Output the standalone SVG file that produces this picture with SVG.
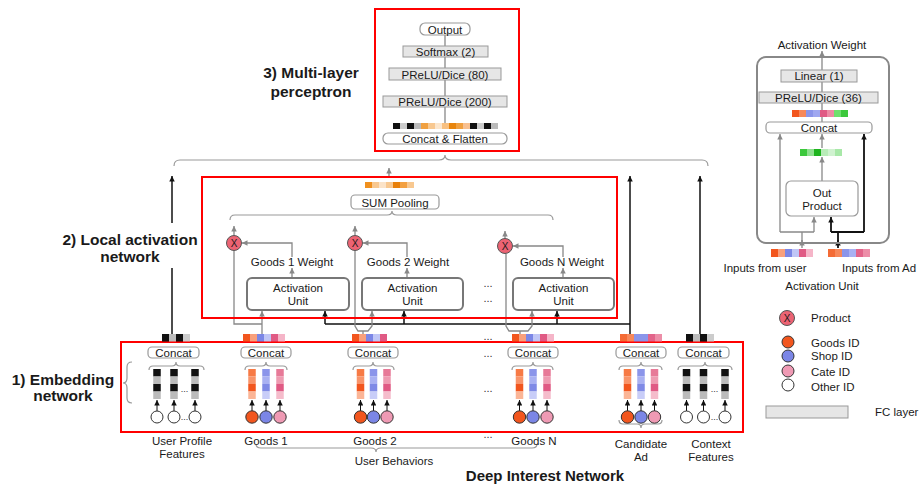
<svg xmlns="http://www.w3.org/2000/svg" width="923" height="485" viewBox="0 0 923 485">
<defs>
<marker id="ag" viewBox="0 0 10 10" refX="10" refY="5" markerWidth="5.5" markerHeight="5.5" markerUnits="userSpaceOnUse" orient="auto"><path d="M0,0 L10,5 L0,10 z" fill="#888"/></marker>
<marker id="ak" viewBox="0 0 10 10" refX="10" refY="5" markerWidth="5.5" markerHeight="5.5" markerUnits="userSpaceOnUse" orient="auto"><path d="M0,0 L10,5 L0,10 z" fill="#111"/></marker>
</defs>
<style>
.t{font-family:"Liberation Sans",Arial,sans-serif;font-size:11.5px;fill:#1a1a1a}
.m{text-anchor:middle}
.b{font-weight:bold;font-size:15.5px}
.box{fill:#fff;stroke:#999;stroke-width:1.2}
.fc{fill:#e6e6e6;stroke:#999;stroke-width:1}
.au{fill:#fff;stroke:#777;stroke-width:2}
.red{fill:none;stroke:#f00;stroke-width:2}
.g{stroke:#888;stroke-width:1.3;fill:none}
.k{stroke:#111;stroke-width:1.5;fill:none}
.ga{stroke:#888;stroke-width:1.3;fill:none;marker-end:url(#ag)}
.ka{stroke:#111;stroke-width:1.5;fill:none;marker-end:url(#ak)}
.br{stroke:#999;stroke-width:1.2;fill:none}
.px{fill:#ec6373;stroke:#555;stroke-width:1}
.cg{fill:#f2561e;stroke:#333;stroke-width:1}
.cs{fill:#7b86e6;stroke:#333;stroke-width:1}
.cc{fill:#ef9ab4;stroke:#333;stroke-width:1}
.co{fill:#fff;stroke:#333;stroke-width:1}
.d{font-family:"Liberation Sans",Arial,sans-serif;font-size:11px;fill:#333;text-anchor:middle}
</style>
<rect width="923" height="485" fill="#fff"/>

<!-- Labels -->
<g id="labels">
<text class="t b m" x="311" y="78">3) Multi-layer</text>
<text class="t b m" x="311" y="97">perceptron</text>
<text class="t b m" x="130" y="245">2) Local activation</text>
<text class="t b m" x="130" y="262">network</text>
<text class="t b m" x="63" y="385">1) Embedding</text>
<text class="t b m" x="63" y="401">network</text>
<text class="t b m" x="545" y="481" style="font-size:15px">Deep Interest Network</text>
<path class="br" d="M132,362 Q127,362 127,367 L127,378 Q127,383 123,383 Q127,383 127,388 L127,398 Q127,403 132,403"/>
</g>

<!-- Connectors -->
<g id="connectors">
<path class="br" d="M174,166 Q174,160 180,160 L439,160 Q445,160 445,155 Q445,160 451,160 L702,160 Q708,160 708,166"/>
<path class="br" d="M230,220 Q230,215 235,215 L387,215 Q392,215 392,211 Q392,215 397,215 L548,215 Q553,215 553,220"/>
<path class="k" d="M172,334 L172,268"/>
<path class="ka" d="M172,223 L172,176"/>
<path class="ka" d="M630,334 L630,176"/>
<path class="ka" d="M700,334 L700,176"/>
<path class="ga" d="M389,178 L389,168"/>
<!-- circle up arrows -->
<path class="ga" d="M234,235 L234,226"/>
<path class="ga" d="M355,235 L355,226"/>
<path class="ga" d="M505,238 L505,231"/>
<!-- weights -->
<path class="ga" d="M292,278 L292,268"/>
<path class="ga" d="M292,257 L292,243 L242,243"/>
<path class="ga" d="M407,278 L407,268"/>
<path class="ga" d="M407,257 L407,243 L363,243"/>
<path class="ga" d="M563,278 L563,268"/>
<path class="ga" d="M563,257 L563,246 L513,246"/>
<!-- black candidate line -->
<path class="k" d="M325,324 L630,324"/>
<path class="ka" d="M325,324 L325,311"/>
<path class="ka" d="M404,324 L404,311"/>
<path class="ka" d="M557,324 L557,311"/>
<!-- goods 1 -->
<path class="ga" d="M262,334 L262,311"/>
<path class="g" d="M262,324 L234,324 L234,251"/>
<!-- goods 2 -->
<path class="ga" d="M355,251 L355,326 L358,331 L368,331 L372,326 L372,311"/>
<path class="g" d="M363,331 L363,334"/>
<!-- goods N -->
<path class="ga" d="M506,254 L506,326 L509,331 L528,331 L532,326 L532,311"/>
<path class="g" d="M520,331 L520,334"/>
<!-- MLP -->
<path class="g" d="M445,123 L445,35"/>
<!-- right panel -->
<path class="ga" d="M822,122 L822,51"/>
<path class="ga" d="M822,148 L822,134"/>
<path class="ga" d="M822,181 L822,157"/>
<path class="g" d="M780,232 L814,232"/>
<path class="ga" d="M780,232 L780,134"/>
<path class="ga" d="M814,232 L814,217"/>
<path class="ga" d="M802,248 L802,240"/>
<path class="g" d="M802,241 L802,232"/>
<path class="k" d="M831,232 L864,232" style="stroke-width:1.8"/>
<path class="ka" d="M864,232 L864,134" style="stroke-width:1.8"/>
<path class="ka" d="M831,232 L831,217" style="stroke-width:1.8"/>
<path class="ka" d="M838,248 L838,240" style="stroke-width:1.8"/>
<path class="k" d="M838,241 L838,232" style="stroke-width:1.8"/>
<!-- embedding small arrows -->
<g>
<path class="ka" d="M157,411 L157,400" style="stroke-width:1"/>
<path class="ka" d="M174,411 L174,400" style="stroke-width:1"/>
<path class="ka" d="M195,411 L195,400" style="stroke-width:1"/>
<path class="ka" d="M252,411 L252,400" style="stroke-width:1"/>
<path class="ka" d="M266,411 L266,400" style="stroke-width:1"/>
<path class="ka" d="M280,411 L280,400" style="stroke-width:1"/>
<path class="ka" d="M360.5,411 L360.5,400" style="stroke-width:1"/>
<path class="ka" d="M373.5,411 L373.5,400" style="stroke-width:1"/>
<path class="ka" d="M387,411 L387,400" style="stroke-width:1"/>
<path class="ka" d="M519.5,411 L519.5,400" style="stroke-width:1"/>
<path class="ka" d="M533,411 L533,400" style="stroke-width:1"/>
<path class="ka" d="M547,411 L547,400" style="stroke-width:1"/>
<path class="ka" d="M627.5,411 L627.5,400" style="stroke-width:1"/>
<path class="ka" d="M641,411 L641,400" style="stroke-width:1"/>
<path class="ka" d="M654.5,411 L654.5,400" style="stroke-width:1"/>
<path class="ka" d="M686.5,411 L686.5,400" style="stroke-width:1"/>
<path class="ka" d="M703.5,411 L703.5,400" style="stroke-width:1"/>
<path class="ka" d="M725,411 L725,400" style="stroke-width:1"/>
</g>
<!-- concat braces -->
<path class="br" d="M149,370 Q149,366 153,366 L172,366 Q176,366 176,362 Q176,366 180,366 L200,366 Q204,366 204,370"/>
<path class="br" d="M245,370 Q245,366 249,366 L262,366 Q266,366 266,362 Q266,366 270,366 L283,366 Q287,366 287,370"/>
<path class="br" d="M353,370 Q353,366 357,366 L369,366 Q373,366 373,362 Q373,366 377,366 L390,366 Q394,366 394,370"/>
<path class="br" d="M512,370 Q512,366 516,366 L529,366 Q533,366 533,362 Q533,366 537,366 L549,366 Q553,366 553,370"/>
<path class="br" d="M619,370 Q619,366 623,366 L637,366 Q641,366 641,362 Q641,366 645,366 L658,366 Q662,366 662,370"/>
<path class="br" d="M678,370 Q678,366 682,366 L701,366 Q705,366 705,362 Q705,366 709,366 L728,366 Q732,366 732,370"/>
<path class="br" d="M619,420 Q619,424 623,424 L637,424 Q641,424 641,428 Q641,424 645,424 L658,424 Q662,424 662,420"/>
<path class="br" d="M256,444 Q256,448 261,448 L371,448 Q376,448 376,452 Q376,448 381,448 L532,448 Q537,448 537,444"/>
</g>

<!-- MLP -->
<g id="mlp">
<rect class="red" x="375" y="9" width="144" height="142"/>
<rect class="box" x="420" y="23" width="50" height="12" rx="5"/>
<text class="t m" x="445" y="33.5">Output</text>
<rect class="fc" x="403" y="46" width="85" height="11"/>
<text class="t m" x="445.5" y="55.5">Softmax (2)</text>
<rect class="fc" x="389" y="68" width="112" height="12"/>
<text class="t m" x="445" y="78.5">PReLU/Dice (80)</text>
<rect class="fc" x="383" y="96" width="124" height="11"/>
<text class="t m" x="445" y="105.5">PReLU/Dice (200)</text>
<g>
<rect x="393" y="123" width="7" height="6" fill="#111"/>
<rect x="400" y="123" width="7" height="6" fill="#ccc"/>
<rect x="407" y="123" width="7" height="6" fill="#111"/>
<rect x="414" y="123" width="7" height="6" fill="#bbb"/>
<rect x="421" y="123" width="7" height="6" fill="#f0a040"/>
<rect x="428" y="123" width="7" height="6" fill="#f8c890"/>
<rect x="435" y="123" width="7" height="6" fill="#fce6cc"/>
<rect x="442" y="123" width="7" height="6" fill="#f8c080"/>
<rect x="449" y="123" width="7" height="6" fill="#e8850c"/>
<rect x="456" y="123" width="7" height="6" fill="#f0a040"/>
<rect x="463" y="123" width="7" height="6" fill="#f8c090"/>
<rect x="470" y="123" width="7" height="6" fill="#111"/>
<rect x="477" y="123" width="7" height="6" fill="#ccc"/>
<rect x="484" y="123" width="7" height="6" fill="#111"/>
<rect x="491" y="123" width="7" height="6" fill="#bbb"/>
</g>
<rect class="box" x="383" y="133" width="124" height="11" rx="5"/>
<text class="t m" x="445" y="142.5">Concat &amp; Flatten</text>
</g>

<!-- Local activation network -->
<g id="local-activation">
<rect class="red" x="202" y="177" width="415" height="141"/>
<g>
<rect x="365" y="182" width="7" height="6" fill="#f0901e"/>
<rect x="372" y="182" width="7" height="6" fill="#f8c890"/>
<rect x="379" y="182" width="7" height="6" fill="#fbe3c8"/>
<rect x="386" y="182" width="7" height="6" fill="#f8c890"/>
<rect x="393" y="182" width="7" height="6" fill="#e8800a"/>
<rect x="400" y="182" width="7" height="6" fill="#f3a040"/>
<rect x="407" y="182" width="7" height="6" fill="#f8c890"/>
</g>
<rect class="box" x="351" y="195" width="88" height="14" rx="4"/>
<text class="t m" x="395" y="206.5">SUM Pooling</text>
</g>
<g id="product1"><circle class="px" cx="234" cy="243" r="7.5"/><text class="t m" x="234" y="247" style="font-size:10px">X</text></g>
<g id="product2"><circle class="px" cx="355" cy="243" r="7.5"/><text class="t m" x="355" y="247" style="font-size:10px">X</text></g>
<g id="productN"><circle class="px" cx="505" cy="246" r="7.5"/><text class="t m" x="505" y="250" style="font-size:10px">X</text></g>
<g id="weight-labels">
<text class="t m" x="292" y="266">Goods 1 Weight</text>
<text class="t m" x="408" y="266">Goods 2 Weight</text>
<text class="t m" x="562" y="266">Goods N Weight</text>
</g>
<g id="au1"><rect class="au" x="247" y="278" width="102" height="32" rx="5"/><text class="t m" x="298" y="292">Activation</text><text class="t m" x="298" y="305">Unit</text></g>
<g id="au2"><rect class="au" x="362" y="278" width="101" height="32" rx="5"/><text class="t m" x="412.5" y="292">Activation</text><text class="t m" x="412.5" y="305">Unit</text></g>
<g id="auN"><rect class="au" x="513" y="278" width="101" height="32" rx="5"/><text class="t m" x="563.5" y="292">Activation</text><text class="t m" x="563.5" y="305">Unit</text></g>
<g id="dots">
<text class="d" x="488" y="287">...</text>
<text class="d" x="488" y="302">...</text>
<text class="d" x="488" y="340">...</text>
<text class="d" x="488" y="357">...</text>
<text class="d" x="488" y="392">...</text>
<text class="d" x="488" y="438">...</text>
</g>

<!-- Embedding -->
<g id="embedding">
<rect class="red" x="121" y="342" width="622" height="90"/>
</g>

<g id="user-profile">
<rect x="162" y="334" width="7" height="7.5" fill="#111"/><rect x="169" y="334" width="7" height="7.5" fill="#bbb"/><rect x="176" y="334" width="7" height="7.5" fill="#111"/><rect x="183" y="334" width="7" height="7.5" fill="#ccc"/>
<rect class="box" x="148" y="347" width="51" height="11" rx="4"/><text class="t m" x="173.5" y="356.5">Concat</text>
<g>
<rect x="153.25" y="369" width="7.5" height="7.5" fill="#111"/><rect x="153.25" y="376.5" width="7.5" height="7.5" fill="#bbb"/><rect x="153.25" y="384" width="7.5" height="7.5" fill="#111"/><rect x="153.25" y="391.5" width="7.5" height="7.5" fill="#bbb"/>
<rect x="170.25" y="369" width="7.5" height="7.5" fill="#111"/><rect x="170.25" y="376.5" width="7.5" height="7.5" fill="#bbb"/><rect x="170.25" y="384" width="7.5" height="7.5" fill="#111"/><rect x="170.25" y="391.5" width="7.5" height="7.5" fill="#bbb"/>
<rect x="191.25" y="369" width="7.5" height="7.5" fill="#111"/><rect x="191.25" y="376.5" width="7.5" height="7.5" fill="#bbb"/><rect x="191.25" y="384" width="7.5" height="7.5" fill="#111"/><rect x="191.25" y="391.5" width="7.5" height="7.5" fill="#bbb"/>
</g>
<text class="d" x="184.5" y="392" style="font-size:9px">...</text>
<circle class="co" cx="157" cy="417" r="6"/><circle class="co" cx="174" cy="417" r="6"/><circle class="co" cx="195" cy="417" r="6"/>
<text class="d" x="184.5" y="420" style="font-size:9px">...</text>
<text class="t m" x="182" y="445">User Profile</text>
<text class="t m" x="182" y="458">Features</text>
</g>

<g id="goods1">
<rect x="243" y="334" width="7" height="7.5" fill="#f2561e"/><rect x="250" y="334" width="7" height="7.5" fill="#f9a07c"/><rect x="257" y="334" width="7" height="7.5" fill="#7b86e6"/><rect x="264" y="334" width="7" height="7.5" fill="#c0c6f6"/><rect x="271" y="334" width="7" height="7.5" fill="#e05a84"/><rect x="278" y="334" width="7" height="7.5" fill="#f5b5c8"/>
<rect class="box" x="241" y="347" width="50" height="11" rx="4"/><text class="t m" x="266" y="356.5">Concat</text>
<rect x="248.25" y="369" width="7.5" height="7.5" fill="#f77a45"/><rect x="248.25" y="376.5" width="7.5" height="7.5" fill="#f9946a"/><rect x="248.25" y="384" width="7.5" height="7.5" fill="#f2561e"/><rect x="248.25" y="391.5" width="7.5" height="7.5" fill="#fbb596"/>
<rect x="262.25" y="369" width="7.5" height="7.5" fill="#8b95ea"/><rect x="262.25" y="376.5" width="7.5" height="7.5" fill="#a9b1f2"/><rect x="262.25" y="384" width="7.5" height="7.5" fill="#7f8ae6"/><rect x="262.25" y="391.5" width="7.5" height="7.5" fill="#c8cdf8"/>
<rect x="276.25" y="369" width="7.5" height="7.5" fill="#e77a98"/><rect x="276.25" y="376.5" width="7.5" height="7.5" fill="#ee9bb1"/><rect x="276.25" y="384" width="7.5" height="7.5" fill="#e05a84"/><rect x="276.25" y="391.5" width="7.5" height="7.5" fill="#f5bccb"/>
<circle class="cg" cx="252" cy="417" r="6.2"/><circle class="cs" cx="266" cy="417" r="6.2"/><circle class="cc" cx="280" cy="417" r="6.2"/>
<text class="t m" x="266" y="445">Goods 1</text>
</g>

<g id="goods2">
<rect x="352" y="334" width="7" height="7.5" fill="#f2561e"/><rect x="359" y="334" width="7" height="7.5" fill="#f9a07c"/><rect x="366" y="334" width="7" height="7.5" fill="#7b86e6"/><rect x="373" y="334" width="7" height="7.5" fill="#c0c6f6"/><rect x="380" y="334" width="7" height="7.5" fill="#e05a84"/>
<rect class="box" x="348" y="347" width="50" height="11" rx="4"/><text class="t m" x="373" y="356.5">Concat</text>
<rect x="356.75" y="369" width="7.5" height="7.5" fill="#f77a45"/><rect x="356.75" y="376.5" width="7.5" height="7.5" fill="#f9946a"/><rect x="356.75" y="384" width="7.5" height="7.5" fill="#f2561e"/><rect x="356.75" y="391.5" width="7.5" height="7.5" fill="#fbb596"/>
<rect x="369.75" y="369" width="7.5" height="7.5" fill="#8b95ea"/><rect x="369.75" y="376.5" width="7.5" height="7.5" fill="#a9b1f2"/><rect x="369.75" y="384" width="7.5" height="7.5" fill="#7f8ae6"/><rect x="369.75" y="391.5" width="7.5" height="7.5" fill="#c8cdf8"/>
<rect x="383.25" y="369" width="7.5" height="7.5" fill="#e77a98"/><rect x="383.25" y="376.5" width="7.5" height="7.5" fill="#ee9bb1"/><rect x="383.25" y="384" width="7.5" height="7.5" fill="#e05a84"/><rect x="383.25" y="391.5" width="7.5" height="7.5" fill="#f5bccb"/>
<circle class="cg" cx="360.5" cy="417" r="6.2"/><circle class="cs" cx="373.5" cy="417" r="6.2"/><circle class="cc" cx="387" cy="417" r="6.2"/>
<text class="t m" x="375" y="445">Goods 2</text>
</g>

<g id="goodsN">
<rect x="512" y="334" width="7" height="7.5" fill="#f2561e"/><rect x="519" y="334" width="7" height="7.5" fill="#f9a07c"/><rect x="526" y="334" width="7" height="7.5" fill="#7b86e6"/><rect x="533" y="334" width="7" height="7.5" fill="#c0c6f6"/><rect x="540" y="334" width="7" height="7.5" fill="#e05a84"/><rect x="547" y="334" width="7" height="7.5" fill="#f5b5c8"/>
<rect class="box" x="508" y="347" width="50" height="11" rx="4"/><text class="t m" x="533" y="356.5">Concat</text>
<rect x="515.75" y="369" width="7.5" height="7.5" fill="#f77a45"/><rect x="515.75" y="376.5" width="7.5" height="7.5" fill="#f9946a"/><rect x="515.75" y="384" width="7.5" height="7.5" fill="#f2561e"/><rect x="515.75" y="391.5" width="7.5" height="7.5" fill="#fbb596"/>
<rect x="529.25" y="369" width="7.5" height="7.5" fill="#8b95ea"/><rect x="529.25" y="376.5" width="7.5" height="7.5" fill="#a9b1f2"/><rect x="529.25" y="384" width="7.5" height="7.5" fill="#7f8ae6"/><rect x="529.25" y="391.5" width="7.5" height="7.5" fill="#c8cdf8"/>
<rect x="543.25" y="369" width="7.5" height="7.5" fill="#e77a98"/><rect x="543.25" y="376.5" width="7.5" height="7.5" fill="#ee9bb1"/><rect x="543.25" y="384" width="7.5" height="7.5" fill="#e05a84"/><rect x="543.25" y="391.5" width="7.5" height="7.5" fill="#f5bccb"/>
<circle class="cg" cx="519.5" cy="417" r="6.2"/><circle class="cs" cx="533" cy="417" r="6.2"/><circle class="cc" cx="547" cy="417" r="6.2"/>
<text class="t m" x="534" y="445">Goods N</text>
</g>
<text class="t m" x="394" y="465">User Behaviors</text>

<g id="candidate-ad">
<rect x="620" y="334" width="7" height="7.5" fill="#f46b35"/><rect x="627" y="334" width="7" height="7.5" fill="#f7885a"/><rect x="634" y="334" width="7" height="7.5" fill="#8b95ea"/><rect x="641" y="334" width="7" height="7.5" fill="#8b95ea"/><rect x="648" y="334" width="7" height="7.5" fill="#e2648a"/><rect x="655" y="334" width="7" height="7.5" fill="#ec8ea8"/>
<rect class="box" x="616" y="347" width="50" height="11" rx="4"/><text class="t m" x="641" y="356.5">Concat</text>
<rect x="623.75" y="369" width="7.5" height="7.5" fill="#f77a45"/><rect x="623.75" y="376.5" width="7.5" height="7.5" fill="#f9946a"/><rect x="623.75" y="384" width="7.5" height="7.5" fill="#f2561e"/><rect x="623.75" y="391.5" width="7.5" height="7.5" fill="#fbb596"/>
<rect x="637.25" y="369" width="7.5" height="7.5" fill="#8b95ea"/><rect x="637.25" y="376.5" width="7.5" height="7.5" fill="#a9b1f2"/><rect x="637.25" y="384" width="7.5" height="7.5" fill="#7f8ae6"/><rect x="637.25" y="391.5" width="7.5" height="7.5" fill="#c8cdf8"/>
<rect x="650.75" y="369" width="7.5" height="7.5" fill="#e77a98"/><rect x="650.75" y="376.5" width="7.5" height="7.5" fill="#ee9bb1"/><rect x="650.75" y="384" width="7.5" height="7.5" fill="#e05a84"/><rect x="650.75" y="391.5" width="7.5" height="7.5" fill="#f5bccb"/>
<circle class="cg" cx="627.5" cy="417" r="6.2"/><circle class="cs" cx="641" cy="417" r="6.2"/><circle class="cc" cx="654.5" cy="417" r="6.2"/>
<text class="t m" x="641" y="448">Candidate</text>
<text class="t m" x="641" y="461">Ad</text>
</g>

<g id="context">
<rect x="686" y="334" width="7" height="7.5" fill="#111"/><rect x="693" y="334" width="7" height="7.5" fill="#bbb"/><rect x="700" y="334" width="7" height="7.5" fill="#111"/><rect x="707" y="334" width="7" height="7.5" fill="#ccc"/>
<rect class="box" x="678" y="347" width="51" height="11" rx="4"/><text class="t m" x="703.5" y="356.5">Concat</text>
<rect x="682.75" y="369" width="7.5" height="7.5" fill="#111"/><rect x="682.75" y="376.5" width="7.5" height="7.5" fill="#bbb"/><rect x="682.75" y="384" width="7.5" height="7.5" fill="#111"/><rect x="682.75" y="391.5" width="7.5" height="7.5" fill="#bbb"/>
<rect x="699.75" y="369" width="7.5" height="7.5" fill="#111"/><rect x="699.75" y="376.5" width="7.5" height="7.5" fill="#bbb"/><rect x="699.75" y="384" width="7.5" height="7.5" fill="#111"/><rect x="699.75" y="391.5" width="7.5" height="7.5" fill="#bbb"/>
<rect x="721.25" y="369" width="7.5" height="7.5" fill="#111"/><rect x="721.25" y="376.5" width="7.5" height="7.5" fill="#bbb"/><rect x="721.25" y="384" width="7.5" height="7.5" fill="#111"/><rect x="721.25" y="391.5" width="7.5" height="7.5" fill="#bbb"/>
<text class="d" x="714.5" y="392" style="font-size:9px">...</text>
<circle class="co" cx="686.5" cy="417" r="6"/><circle class="co" cx="703.5" cy="417" r="6"/><circle class="co" cx="725" cy="417" r="6"/>
<text class="d" x="714.5" y="420" style="font-size:9px">...</text>
<text class="t m" x="711" y="448">Context</text>
<text class="t m" x="711" y="461">Features</text>
</g>

<!-- Activation unit detail -->
<g id="activation-unit-detail">
<text class="t m" x="822" y="49">Activation Weight</text>
<rect x="757" y="57" width="132" height="186" rx="9" fill="none" stroke="#888" stroke-width="2"/>
<rect class="fc" x="781" y="70" width="76" height="12"/>
<text class="t m" x="819" y="80">Linear (1)</text>
<rect class="fc" x="759" y="92" width="119" height="11"/>
<text class="t m" x="818.5" y="101.5">PReLU/Dice (36)</text>
<rect x="792" y="110" width="7" height="7" fill="#f2561e"/><rect x="799" y="110" width="7" height="7" fill="#f7885a"/><rect x="806" y="110" width="7" height="7" fill="#8b95ea"/><rect x="813" y="110" width="7" height="7" fill="#a0a8f0"/><rect x="820" y="110" width="7" height="7" fill="#e05a84"/><rect x="827" y="110" width="7" height="7" fill="#ec8aa4"/><rect x="834" y="110" width="7" height="7" fill="#6ee06e"/><rect x="841" y="110" width="7" height="7" fill="#3cc83c"/>
<rect class="box" x="766" y="122" width="106" height="11" rx="4"/>
<text class="t m" x="819" y="131.5">Concat</text>
<rect x="800" y="149" width="7" height="7" fill="#3cc83c"/><rect x="807" y="149" width="7" height="7" fill="#8ee08e"/><rect x="814" y="149" width="7" height="7" fill="#1eb41e"/><rect x="821" y="149" width="7" height="7" fill="#b8ecb8"/><rect x="828" y="149" width="7" height="7" fill="#d0f2d0"/><rect x="835" y="149" width="7" height="7" fill="#a8e8a8"/>
<rect class="box" x="786" y="181" width="72" height="35" rx="5"/>
<text class="t m" x="822" y="197">Out</text>
<text class="t m" x="822" y="210">Product</text>
<rect x="771" y="249" width="7" height="8" fill="#f2561e"/><rect x="778" y="249" width="7" height="8" fill="#f9a07c"/><rect x="785" y="249" width="7" height="8" fill="#7b86e6"/><rect x="792" y="249" width="7" height="8" fill="#c0c6f6"/><rect x="799" y="249" width="7" height="8" fill="#e05a84"/><rect x="806" y="249" width="7" height="8" fill="#f5b5c8"/>
<rect x="828" y="249" width="7" height="8" fill="#f46b35"/><rect x="835" y="249" width="7" height="8" fill="#f7885a"/><rect x="842" y="249" width="7" height="8" fill="#8b95ea"/><rect x="849" y="249" width="7" height="8" fill="#a9b1f2"/><rect x="856" y="249" width="7" height="8" fill="#e2648a"/><rect x="863" y="249" width="7" height="8" fill="#ec8ea8"/>
<text class="t m" x="765" y="272">Inputs from user</text>
<text class="t" x="842" y="272">Inputs from Ad</text>
<text class="t m" x="822" y="290">Activation Unit</text>
</g>

<!-- Legend -->
<g id="legend">
<circle class="px" cx="787" cy="318" r="7.5"/><text class="t m" x="787" y="322" style="font-size:10px">X</text>
<text class="t" x="811" y="322">Product</text>
<circle class="cg" cx="788" cy="342" r="6"/><text class="t" x="811" y="347">Goods ID</text>
<circle class="cs" cx="788" cy="356" r="6"/><text class="t" x="811" y="360">Shop ID</text>
<circle class="cc" cx="788" cy="371" r="6"/><text class="t" x="811" y="375.5">Cate ID</text>
<circle class="co" cx="788" cy="385" r="6"/><text class="t" x="811" y="391">Other ID</text>
<rect class="fc" x="766" y="406" width="82" height="12"/>
<text class="t" x="875" y="416">FC layer</text>
</g>
</svg>
